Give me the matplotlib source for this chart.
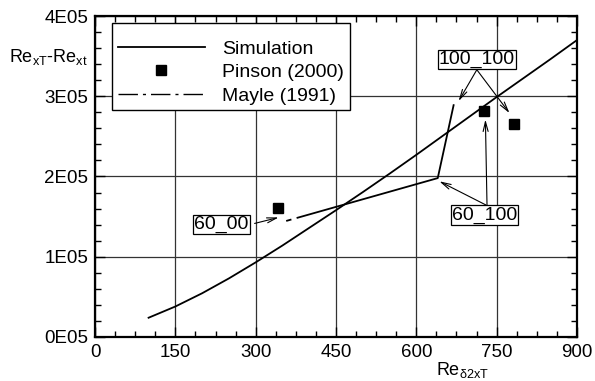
import matplotlib
matplotlib.use("Agg")
import matplotlib.pyplot as plt
from matplotlib.ticker import MultipleLocator, FuncFormatter
from matplotlib.lines import Line2D

plt.rcParams['font.family'] = ['Liberation Sans', 'DejaVu Sans']
plt.rcParams['mathtext.fontset'] = 'custom'
plt.rcParams['mathtext.rm'] = 'Liberation Sans'
plt.rcParams['mathtext.it'] = 'Liberation Sans'
plt.rcParams['mathtext.default'] = 'regular'

# simulation curve
sim_x = [100, 150, 200, 250, 300, 350, 400, 450, 500, 550, 600, 650, 700, 750, 800, 850, 900]
sim_y = [0.24e5, 0.38e5, 0.545e5, 0.73e5, 0.93e5, 1.14e5, 1.36e5, 1.58e5, 1.805e5, 2.035e5,
         2.27e5, 2.51e5, 2.75e5, 2.99e5, 3.225e5, 3.46e5, 3.70e5]

# Pinson (2000) measurements
pinson_x = [342, 726, 783]
pinson_y = [1.605e5, 2.82e5, 2.66e5]

# Mayle (1991) correlation
mayle_x = [357, 640, 670]
mayle_y = [1.446e5, 1.98e5, 2.90e5]

# annotations: label, text position, arrow start, arrow targets
notes = [
    ("60_00", (236, 1.40e5), [(298, 1.415e5)], [(343, 1.49e5)]),
    ("60_100", (728, 1.52e5), [(730, 1.645e5), (732, 1.645e5)], [(643, 1.94e5), (729, 2.71e5)]),
    ("100_100", (713, 3.46e5), [(713, 3.33e5), (713, 3.33e5)], [(679, 2.94e5), (774, 2.79e5)]),
]

fig = plt.figure(figsize=(5.95, 3.81), dpi=100)
ax = fig.add_axes([0.1597, 0.1155, 0.8100, 0.8425])

ax.plot(sim_x, sim_y, color='black', lw=1.3, zorder=3)
ax.plot(pinson_x, pinson_y, 's', color='black', ms=6.5, zorder=4)
ax.plot(mayle_x, mayle_y, color='black', lw=1.3, dashes=(3, 3, 1000, 1), zorder=3)

ax.set_xlim(0, 900)
ax.set_ylim(0, 4e5)
ax.xaxis.set_major_locator(MultipleLocator(150))
ax.xaxis.set_minor_locator(MultipleLocator(37.5))
ax.yaxis.set_major_locator(MultipleLocator(1e5))
ax.yaxis.set_minor_locator(MultipleLocator(2e4))
ax.yaxis.set_major_formatter(FuncFormatter(lambda v, p: '%dE05' % round(v / 1e5)))
ax.tick_params(which='both', direction='in', top=True, right=True, labelsize=13.5, width=1.0)
ax.tick_params(which='major', length=7, pad=5)
ax.tick_params(which='minor', length=4)
for s in ax.spines.values():
    s.set_linewidth(1.6)
ax.grid(True, which='major', color='#333333', lw=0.9)

for label, tpos, srcs, targets in notes:
    for src, tgt in zip(srcs, targets):
        ax.annotate('', xy=tgt, xytext=src,
                    arrowprops=dict(arrowstyle='->,head_length=0.7,head_width=0.18',
                                    color='black', lw=0.8, shrinkA=0, shrinkB=0), zorder=5)
    ax.text(tpos[0], tpos[1], label, fontsize=14, ha='center', va='center', zorder=6,
            bbox=dict(boxstyle='square,pad=0.05', fc='white', ec='black', lw=0.9))

handles = [Line2D([], [], color='black', lw=1.3),
           Line2D([], [], ls='none', marker='s', color='black', ms=6.5),
           Line2D([], [], color='black', lw=1.0, dashes=(14, 3.6, 2.2, 3.6))]
leg = ax.legend(handles, ['Simulation', 'Pinson (2000)', 'Mayle (1991)'],
                loc='upper left', bbox_to_anchor=(0.035, 0.977), fontsize=14,
                handlelength=4.5, handletextpad=0.86, labelspacing=0.3,
                borderpad=0.3, borderaxespad=0, fancybox=False, framealpha=1,
                title=' ', title_fontsize=4)
leg.get_frame().set_edgecolor('black')
leg.get_frame().set_linewidth(1.0)

fig.text(0.015, 0.85, r'Re$_{xT}$-Re$_{xt}$', fontsize=13, ha='left', va='center')
fig.text(0.778, 0.03, r'Re$_{\delta 2xT}$', fontsize=13, ha='center', va='center')

fig.savefig('out.png', dpi=100)
